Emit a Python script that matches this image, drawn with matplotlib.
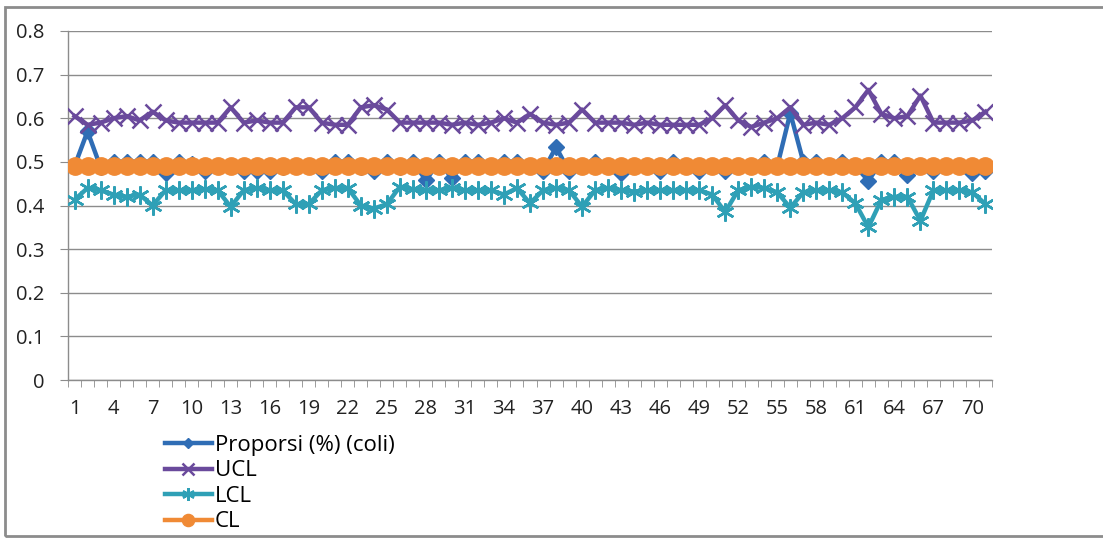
import numpy as np
import matplotlib
matplotlib.use("Agg")
import matplotlib.pyplot as plt
from matplotlib.patches import Rectangle

plt.rcParams['font.family'] = ['Open Sans', 'DejaVu Sans']

# sample numbers 1..71
samples = list(range(1, 72))

proporsi = [0.49, 0.57, 0.488, 0.50, 0.50, 0.50, 0.50, 0.475, 0.50, 0.495,
            0.48, 0.49, 0.49, 0.48, 0.478, 0.48, 0.488, 0.49, 0.49, 0.478,
            0.50, 0.50, 0.488, 0.478, 0.50, 0.488, 0.50, 0.458, 0.50, 0.463,
            0.50, 0.50, 0.49, 0.50, 0.50, 0.49, 0.478, 0.534, 0.478, 0.49,
            0.50, 0.49, 0.475, 0.49, 0.49, 0.478, 0.50, 0.49, 0.478, 0.49,
            0.478, 0.49, 0.49, 0.50, 0.49, 0.612, 0.50, 0.50, 0.49, 0.50,
            0.49, 0.457, 0.50, 0.50, 0.47, 0.49, 0.478, 0.49, 0.49, 0.475,
            0.48]

ucl = [0.605, 0.585, 0.59, 0.60, 0.605, 0.595, 0.615, 0.595, 0.59, 0.59,
       0.59, 0.59, 0.625, 0.59, 0.595, 0.59, 0.59, 0.625, 0.625, 0.59,
       0.585, 0.585, 0.625, 0.63, 0.62, 0.59, 0.59, 0.59, 0.59, 0.585,
       0.59, 0.585, 0.59, 0.60, 0.59, 0.61, 0.59, 0.585, 0.59, 0.62,
       0.59, 0.59, 0.59, 0.585, 0.59, 0.585, 0.585, 0.585, 0.585, 0.60,
       0.63, 0.595, 0.58, 0.59, 0.60, 0.625, 0.585, 0.59, 0.585, 0.60,
       0.625, 0.665, 0.61, 0.60, 0.605, 0.652, 0.59, 0.59, 0.59, 0.595,
       0.615]

lcl = [0.413, 0.44, 0.435, 0.425, 0.42, 0.425, 0.40, 0.435, 0.435, 0.435,
       0.437, 0.435, 0.397, 0.435, 0.44, 0.435, 0.435, 0.403, 0.403, 0.435,
       0.44, 0.44, 0.40, 0.393, 0.403, 0.443, 0.437, 0.435, 0.435, 0.44,
       0.435, 0.435, 0.435, 0.425, 0.44, 0.405, 0.435, 0.44, 0.435, 0.397,
       0.435, 0.44, 0.435, 0.432, 0.435, 0.435, 0.435, 0.435, 0.435, 0.425,
       0.385, 0.435, 0.443, 0.44, 0.43, 0.395, 0.43, 0.435, 0.435, 0.43,
       0.405, 0.35, 0.413, 0.42, 0.42, 0.365, 0.435, 0.435, 0.435, 0.43,
       0.403]

cl = [0.49] * 71

labels = ['Proporsi (%) (coli)', 'UCL', 'LCL', 'CL']
colors = ['#2f6db5', '#6a4a9c', '#2fa0b6', '#f08a35']

fig = plt.figure(figsize=(11.03, 5.39), dpi=100)
ax = fig.add_axes([68 / 1103, 1 - 380 / 539, (992 - 68) / 1103, (380 - 31) / 539])

x = np.array(samples)
ax.plot(x, proporsi, color=colors[0], lw=3.2, marker='D', ms=8, label=labels[0], zorder=3)
ax.plot(x, ucl, color=colors[1], lw=3.2, marker='x', ms=12, mew=1.8, label=labels[1], zorder=3)
ax.plot(x, lcl, color=colors[2], lw=3.2, marker=(6, 2, 0), ms=13, mew=1.8, label=labels[2], zorder=3)
ax.plot(x, cl, color=colors[3], lw=3.2, marker='o', ms=12.5, label=labels[3], zorder=4)

ax.set_xlim(0.5, 71.5)
ax.set_ylim(0, 0.8)
ax.set_yticks(np.arange(0, 0.81, 0.1))
ax.set_yticklabels(['0'] + ['%.1f' % v for v in np.arange(0.1, 0.81, 0.1)])
ax.yaxis.grid(True, color='#8c8c8c', lw=1)
ax.set_axisbelow(True)

# labels every third sample, tick marks between samples
ax.set_xticks(x[::3])
ax.set_xticklabels([str(v) for v in x[::3]])
ax.set_xticks(np.arange(0.5, 72, 1), minor=True)
ax.tick_params(axis='x', which='major', length=0, pad=14)
ax.tick_params(axis='x', which='minor', length=5, color='#8c8c8c', direction='out')
ax.tick_params(axis='y', length=6, color='#8c8c8c', pad=11)
ax.tick_params(labelsize=14.5, labelcolor='#222222')

for s in ['top', 'right']:
    ax.spines[s].set_visible(False)
for s in ['left', 'bottom']:
    ax.spines[s].set_color('#8c8c8c')
    ax.spines[s].set_linewidth(1)

fig.legend(loc='upper left', bbox_to_anchor=(145 / 1103, 1 - 415 / 539),
           frameon=False, fontsize=16, handlelength=2.1, handletextpad=0.15,
           labelspacing=0.2, markerscale=0.7)

# outer chart frame
fig.patches.append(Rectangle((5 / 1103, 3 / 539), 1.2, 1 - 10 / 539,
                             transform=fig.transFigure, fill=False,
                             edgecolor='#8c8c8c', lw=2))

fig.savefig('out.png', dpi=100)
